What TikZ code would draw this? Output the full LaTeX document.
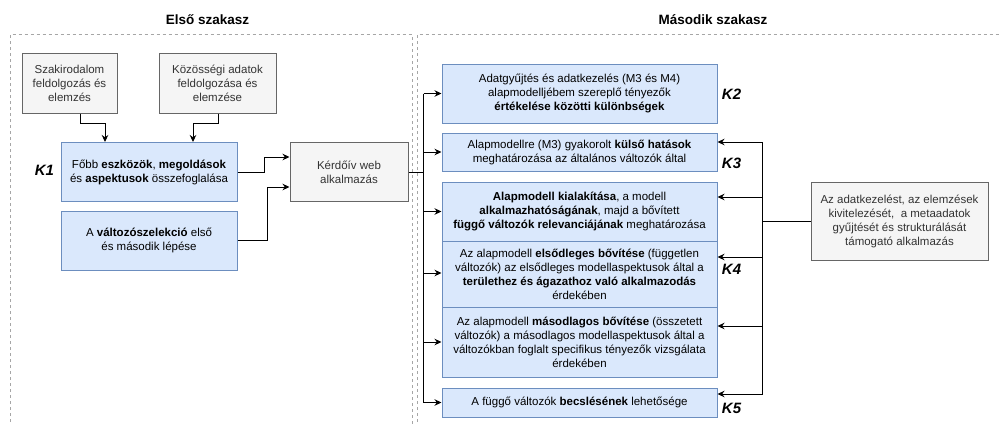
\documentclass[tikz,border=0pt]{standalone}
\usepackage{fontspec}
\setmainfont{Liberation Sans}
\usetikzlibrary{arrows.meta,calc}
\definecolor{bluefill}{HTML}{DAE8FC}
\definecolor{bluedraw}{HTML}{6C8EBF}
\definecolor{grayfill}{HTML}{F5F5F5}
\definecolor{graydraw}{HTML}{666666}
\definecolor{graytext}{HTML}{333333}
\definecolor{framegray}{HTML}{A6A6A6}
\begin{document}
\begin{tikzpicture}[x=1pt,y=-1pt,
  box/.style={draw, line width=1pt, align=center, inner sep=2pt, font=\fontsize{11.5}{14}\selectfont},
  bluebox/.style={box, draw=bluedraw, fill=bluefill, text=black},
  graybox/.style={box, draw=graydraw, fill=grayfill, text=graytext},
  klabel/.style={font=\fontsize{15}{15}\selectfont\bfseries\itshape, inner sep=0pt},
  titlelabel/.style={font=\fontsize{13.5}{14}\selectfont\bfseries, inner sep=0pt},
  arr/.style={-{Stealth[length=7pt,width=6.5pt]}, line width=1pt},
  conn/.style={line width=1pt},
  frame/.style={draw=framegray, dash pattern=on 3pt off 3pt, line width=0.8pt}]
\useasboundingbox (0,0) rectangle (1000,423);

% frames (cut off by the picture edge)
\begin{scope}
\clip (0,0) rectangle (1000,423);
\draw[frame] (10,440) -- (10,34.5) -- (412,34.5) -- (412,440);
\draw[frame] (417,440) -- (417,34.5) -- (1010,34.5);
\end{scope}

% titles
\node[titlelabel] (t1) at (207.5,20) {Első szakasz};
\node[titlelabel] (t2) at (713,20) {Második szakasz};

% left stage
\node[graybox, minimum width=95pt, minimum height=60pt] (sz) at (69.5,83)
  {Szakirodalom\\feldolgozás és\\elemzés};
\node[graybox, minimum width=117pt, minimum height=60pt] (koz) at (217.5,83)
  {Közösségi adatok\\feldolgozása és\\elemzése};
\node[bluebox, minimum width=176pt, minimum height=59pt] (k1b) at (149,172)
  {Főbb \textbf{eszközök}, \textbf{megoldások}\\és \textbf{aspektusok} összefoglalása};
\node[bluebox, minimum width=176pt, minimum height=59pt] (valt) at (149,240.5)
  {A \textbf{változószelekció} első\\és második lépése};
\node[graybox, minimum width=118pt, minimum height=59pt] (ker) at (349,172)
  {Kérdőív web\\alkalmazás};
\node[klabel] (K1) at (44.5,170) {K1};

% right stage
\node[bluebox, minimum width=275pt, minimum height=59pt] (k2b) at (579.5,93.5)
  {Adatgyűjtés és adatkezelés (M3 és M4)\\alapmodelljébem szereplő tényezők\\\textbf{értékelése közötti különbségek}};
\node[bluebox, minimum width=275pt, minimum height=38pt] (k3b) at (579.5,152)
  {Alapmodellre (M3) gyakorolt \textbf{külső hatások}\\meghatározása az általános változók által};
\node[bluebox, minimum width=275pt, minimum height=59pt] (alap) at (579.5,211.5)
  {\textbf{Alapmodell kialakítása}, a modell\\\textbf{alkalmazhatóságának}, majd a bővített\\\textbf{függő változók relevanciájának} meghatározása};
\node[bluebox, minimum width=275pt, minimum height=66pt] (elso) at (579.5,274)
  {Az alapmodell \textbf{elsődleges bővítése} (független\\változók) az elsődleges modellaspektusok által a\\\textbf{területhez és ágazathoz való alkalmazodás}\\érdekében};
\node[bluebox, minimum width=275pt, minimum height=70pt] (maso) at (579.5,342)
  {Az alapmodell \textbf{másodlagos bővítése} (összetett\\változók) a másodlagos modellaspektusok által a\\változókban foglalt specifikus tényezők vizsgálata\\érdekében};
\node[bluebox, minimum width=275pt, minimum height=29pt] (becs) at (579.5,402.5)
  {A függő változók \textbf{becslésének} lehetősége};
\node[graybox, minimum width=177pt, minimum height=78pt] (supp) at (899.5,221)
  {Az adatkezelést, az elemzések\\kivitelezését,\ \ a metaadatok\\gyűjtését és strukturálását\\támogató alkalmazás};

\node[klabel] (K2) at (731.5,94.5) {K2};
\node[klabel] (K3) at (731.5,163) {K3};
\node[klabel] (K4) at (731.5,269.5) {K4};
\node[klabel] (K5) at (731.5,408) {K5};

% left connectors
\draw[arr] ([xshift=10.5pt]sz.south) -- ++(0,10) -| ([xshift=-44pt]k1b.north);
\draw[arr] ([xshift=0.5pt]koz.south) -- ++(0,10) -| ([xshift=44pt]k1b.north);
\draw[arr] (k1b.east) -- ++(27,0) |- ([yshift=15pt]ker.west);
\draw[arr] (valt.east) -- ++(30,0) |- ([yshift=-15pt]ker.west);

% left bus
\draw[conn] (ker.east) -- ++(15,0) coordinate (busL);
\draw[conn] (busL |- k2b.west) -- (busL |- becs.west);
\foreach \n in {k2b,k3b,alap,maso,becs}
  \draw[arr] (busL |- \n.west) -- (\n.west);
\draw[arr] ([yshift=1pt]busL |- elso.west) -- ([yshift=1pt]elso.west);

% right bus
\coordinate (busR) at ([xshift=-48pt]supp.west);
\draw[conn] (supp.west) -- (busR);
\draw[conn] ([yshift=10pt]k3b.east -| busR) -- ([yshift=8.5pt]becs.east -| busR);
\draw[arr] ([yshift=10pt]k3b.east -| busR) -- ([yshift=10pt]k3b.east);
\draw[arr] ([yshift=14.5pt]alap.east -| busR) -- ([yshift=14.5pt]alap.east);
\draw[arr] ([yshift=17pt]elso.east -| busR) -- ([yshift=17pt]elso.east);
\draw[arr] ([yshift=16pt]maso.east -| busR) -- ([yshift=16pt]maso.east);
\draw[arr] ([yshift=8.5pt]becs.east -| busR) -- ([yshift=8.5pt]becs.east);
\end{tikzpicture}
\end{document}
